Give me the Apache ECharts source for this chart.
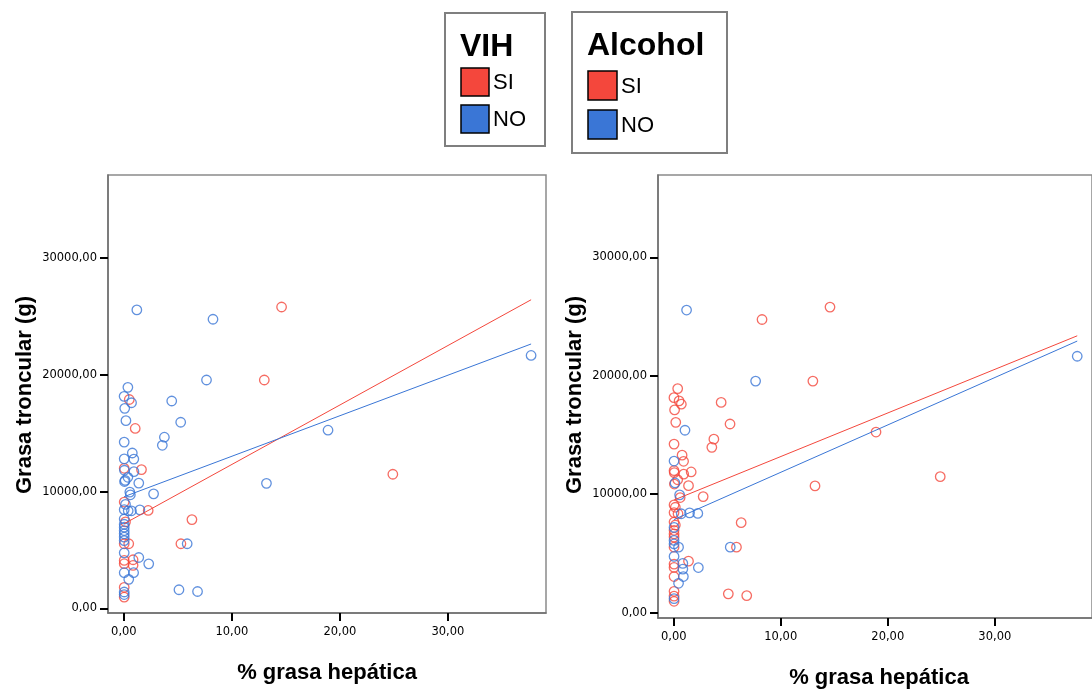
<!DOCTYPE html>
<html>
<head>
<meta charset="utf-8">
<title>Grasa troncular vs % grasa hepática</title>
<script src="https://cdn.jsdelivr.net/npm/echarts@6/dist/echarts.min.js"></script>
<style>
  html, body { margin: 0; padding: 0; background: #ffffff; }
  #chart { width: 1092px; height: 690px; }
</style>
</head>
<body>
<div id="chart"></div>
<script>
// % grasa hepática (x) and grasa troncular in grams (y), one entry per subject
const grasaHepatica = [
  1.20, 8.25, 14.6, 37.7, 7.65, 13.0, 18.9, 0.37, 0.02, 0.50,
  0.71, 0.08, 0.19, 1.05, 4.43, 5.26, 3.75, 3.56, 0.03, 0.03,
  0.78, 0.92, 0.03, 0.05, 1.63, 0.93, 0.37, 0.12, 0.06, 1.38,
  13.2, 24.9, 0.55, 0.60, 2.75, 0.03, 0.15, 0.03, 0.40, 0.70,
  1.48, 2.25, 0.03, 0.15, 6.30, 0.03, 0.03, 0.03, 0.03, 0.03,
  0.03, 0.03, 0.45, 5.28, 5.86, 0.03, 1.38, 0.03, 0.03, 0.85,
  0.85, 2.30, 0.03, 0.90, 0.45, 5.10, 6.82, 0.03, 0.03, 0.03,
  0.03
];
const grasaTroncular = [
  25550, 24750, 25800, 21650, 19550, 19550, 15250, 18920, 18150, 17880,
  17600, 17120, 16070, 15400, 17750, 15930, 14650, 13960, 14230, 12800,
  13300, 12780, 11990, 11820, 11880, 11700, 11220, 10950, 10860, 10720,
  10700, 11480, 9950, 9720, 9800, 9100, 8900, 8450, 8350, 8350,
  8430, 8380, 7650, 7400, 7600, 7200, 6950, 6650, 6380, 6100,
  5800, 5530, 5530, 5530, 5530, 4750, 4350, 4100, 3820, 4160,
  3680, 3810, 3050, 3050, 2480, 1590, 1440, 1800, 1400, 1180,
  960
];
// group membership: 1 = SI, 0 = NO
const vih = [
  0, 0, 1, 0, 0, 1, 0, 0, 0, 1,
  0, 0, 0, 1, 0, 0, 0, 0, 0, 0,
  0, 0, 1, 0, 1, 0, 0, 0, 0, 0,
  0, 1, 0, 0, 0, 1, 0, 0, 0, 0,
  0, 1, 0, 1, 1, 0, 0, 0, 0, 0,
  0, 1, 1, 1, 0, 0, 0, 1, 1, 1,
  1, 0, 0, 0, 0, 0, 0, 1, 0, 0,
  1
];
const alcohol = [
  0, 1, 1, 0, 0, 1, 1, 1, 1, 1,
  1, 1, 1, 0, 1, 1, 1, 1, 1, 0,
  1, 1, 1, 1, 1, 1, 1, 0, 1, 1,
  1, 1, 0, 1, 1, 1, 1, 1, 1, 0,
  0, 0, 1, 1, 1, 0, 1, 1, 1, 0,
  0, 1, 0, 0, 1, 0, 1, 1, 1, 0,
  0, 0, 1, 0, 0, 1, 1, 1, 1, 0,
  1
];

// fitted lines per group: [intercept, slope]
const rectaVihSI = [7230, 509];
const rectaVihNO = [9550, 347];
const rectaAlcoholSI = [9500, 368];
const rectaAlcoholNO = [7850, 400];

// axis tick values
const ticksX = [0, 10, 20, 30];
const ticksY = [0, 10000, 20000, 30000];

const grupos = ['SI', 'NO'];
const ROJO = '#f4473c';
const AZUL = '#3a76d6';

function puntos(grupo, valor) {
  const out = [];
  for (let i = 0; i < grasaHepatica.length; i++) {
    if (grupo[i] === valor) out.push([grasaHepatica[i], grasaTroncular[i]]);
  }
  return out;
}

const xMin = Math.min.apply(null, grasaHepatica);
const xMax = Math.max.apply(null, grasaHepatica);
function recta(coef) {
  return [[xMin, coef[0] + coef[1] * xMin], [xMax, coef[0] + coef[1] * xMax]];
}

const coma = v => v.toFixed(2).replace('.', ',');

function ejeX(gridIndex) {
  return {
    type: 'value', gridIndex: gridIndex, min: -1.47, max: 39.08,
    splitLine: { show: false },
    axisLine: { show: true, onZero: false, lineStyle: { color: '#6e6e6e', width: 1.5 } },
    axisTick: { show: true, customValues: ticksX, length: 8, lineStyle: { color: '#000', width: 2 } },
    axisLabel: { customValues: ticksX, formatter: coma, margin: 13, color: '#000',
      fontFamily: 'DejaVu Sans', fontSize: 11.5 }
  };
}
function ejeY(gridIndex, min, max) {
  return {
    type: 'value', gridIndex: gridIndex, min: min, max: max,
    splitLine: { show: false },
    axisLine: { show: true, onZero: false, lineStyle: { color: '#6e6e6e', width: 1.5 } },
    axisTick: { show: true, customValues: ticksY, length: 8, lineStyle: { color: '#000', width: 2 } },
    axisLabel: { customValues: ticksY, formatter: coma, margin: 11, color: '#000',
      fontFamily: 'DejaVu Sans', fontSize: 11.5 }
  };
}

function dispersion(grupo, idx) {
  return grupos.map((g, k) => ({
    type: 'scatter', xAxisIndex: idx, yAxisIndex: idx,
    data: puntos(grupo, k === 0 ? 1 : 0),
    symbol: 'circle', symbolSize: 9.5,
    itemStyle: { color: 'rgba(0,0,0,0)', borderColor: k === 0 ? ROJO : AZUL, borderWidth: 1.3 },
    silent: true
  }));
}
function linea(coef, color, idx) {
  return {
    type: 'line', xAxisIndex: idx, yAxisIndex: idx, data: recta(coef),
    showSymbol: false, symbol: 'none', silent: true,
    lineStyle: { color: color, width: 1 }
  };
}

// legend boxes and axis titles
function leyenda(x0, y0, w, h, titulo, sx, sy1, sy2, size) {
  return [
    { type: 'rect', shape: { x: x0, y: y0, width: w, height: h },
      style: { fill: '#fff', stroke: '#7f7f7f', lineWidth: 2 } },
    { type: 'text', x: sx - 1, y: y0 + 34,
      style: { text: titulo, fill: '#000', fontFamily: 'Liberation Sans', fontWeight: 'bold',
        fontSize: 32, align: 'left', verticalAlign: 'middle' } },
    { type: 'rect', shape: { x: sx, y: sy1, width: size, height: size },
      style: { fill: ROJO, stroke: '#000', lineWidth: 1.5 } },
    { type: 'rect', shape: { x: sx, y: sy2, width: size, height: size },
      style: { fill: AZUL, stroke: '#000', lineWidth: 1.5 } },
    { type: 'text', x: sx + size + 4, y: sy1 + size / 2 + 1,
      style: { text: grupos[0], fill: '#000', fontFamily: 'Liberation Sans', fontSize: 22,
        align: 'left', verticalAlign: 'middle' } },
    { type: 'text', x: sx + size + 4, y: sy2 + size / 2 + 1,
      style: { text: grupos[1], fill: '#000', fontFamily: 'Liberation Sans', fontSize: 22,
        align: 'left', verticalAlign: 'middle' } }
  ];
}
function tituloEje(text, x, y, rot) {
  return { type: 'text', x: x, y: y, rotation: rot,
    style: { text: text, fill: '#000', fontFamily: 'Liberation Sans', fontWeight: 'bold',
      fontSize: 22, align: 'center', verticalAlign: 'middle' } };
}

const chart = echarts.init(document.getElementById('chart'), null, { renderer: 'canvas' });
chart.setOption({
  animation: false,
  backgroundColor: '#ffffff',
  grid: [
    { left: 108, top: 175, width: 438, height: 438, show: true, borderColor: '#8a8a8a', borderWidth: 1.5, backgroundColor: 'transparent' },
    { left: 658, top: 175, width: 444, height: 443, show: true, borderColor: '#8a8a8a', borderWidth: 1.5, backgroundColor: 'transparent' }
  ],
  xAxis: [ejeX(0), ejeX(1)],
  yAxis: [ejeY(0, -400, 37100), ejeY(1, -450, 36950)],
  series: [].concat(
    dispersion(vih, 0),
    [linea(rectaVihSI, ROJO, 0), linea(rectaVihNO, AZUL, 0)],
    dispersion(alcohol, 1),
    [linea(rectaAlcoholSI, ROJO, 1), linea(rectaAlcoholNO, AZUL, 1)]
  ),
  graphic: [].concat(
    leyenda(445, 13, 100, 133, 'VIH', 461, 68, 105, 28),
    leyenda(572, 12, 155, 141, 'Alcohol', 588, 71, 110, 29),
    [
      tituloEje('Grasa troncular (g)', 25, 395, Math.PI / 2),
      tituloEje('Grasa troncular (g)', 575, 395, Math.PI / 2),
      tituloEje('% grasa hepática', 327, 673, 0),
      tituloEje('% grasa hepática', 879, 678, 0)
    ]
  )
});
</script>
</body>
</html>
